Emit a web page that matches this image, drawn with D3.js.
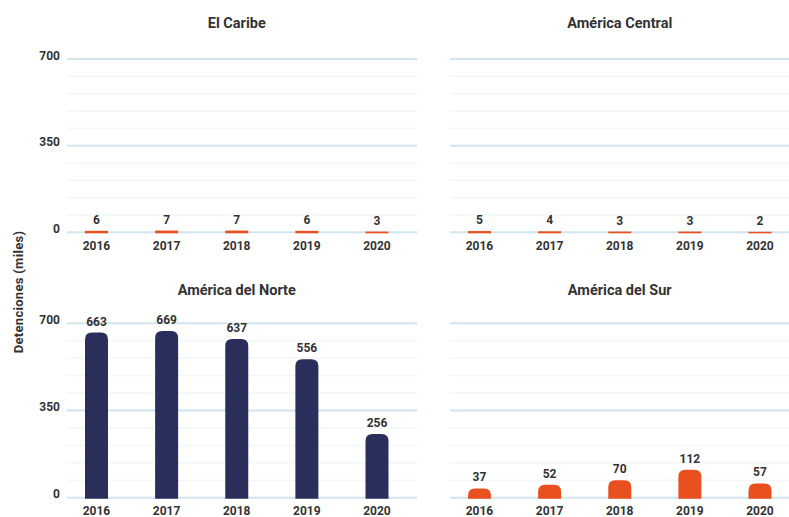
<!DOCTYPE html>
<html>
<head>
<meta charset="utf-8">
<script src="https://cdn.jsdelivr.net/npm/d3@7"></script>
<style>
  html, body { margin: 0; padding: 0; background: #ffffff; }
  svg { display: block; }
  text { font-family: Roboto, "DejaVu Sans", sans-serif; font-weight: 700; fill: #333333; }
</style>
</head>
<body>
<svg id="chart" width="789" height="517"></svg>
<script>
const years = ["2016", "2017", "2018", "2019", "2020"];
const regions = ["El Caribe", "América Central", "América del Norte", "América del Sur"];
const caribeValues = [6, 7, 7, 6, 3];
const centralValues = [5, 4, 3, 3, 2];
const norteValues = [663, 669, 637, 556, 256];
const surValues = [37, 52, 70, 112, 57];
const majorTicks = [0, 350, 700];
const minorTicks = [70, 140, 210, 280, 420, 490, 560, 630];
const yAxisTitle = "Detenciones (miles)";

const navy = "#2a2e5a";
const orange = "#e8501f";

const svg = d3.select("#chart");

const panels = [
  { title: regions[0], values: caribeValues, color: orange, x0: 67, x1: 417, y0: 232.3, y1: 59, titleY: 28, showTicks: true },
  { title: regions[1], values: centralValues, color: orange, x0: 450, x1: 800, y0: 232.3, y1: 59, titleY: 28, showTicks: false },
  { title: regions[2], values: norteValues, color: navy, x0: 67, x1: 417, y0: 497.7, y1: 323.3, titleY: 295, showTicks: true },
  { title: regions[3], values: surValues, color: orange, x0: 450, x1: 800, y0: 497.7, y1: 323.3, titleY: 295, showTicks: false }
];

const barW = 23;

function barPath(x, yTop, yBase, w) {
  const h = yBase - yTop;
  const r = Math.min(7, h, w / 2);
  if (h < 3) {
    return `M${x},${yBase}V${yTop}H${x + w}V${yBase}Z`;
  }
  return `M${x},${yBase}V${yTop + r}Q${x},${yTop} ${x + r},${yTop}H${x + w - r}Q${x + w},${yTop} ${x + w},${yTop + r}V${yBase}Z`;
}

panels.forEach(p => {
  const g = svg.append("g");
  const x = d3.scalePoint().domain(years).range([p.x0 + 29.5, p.x1 - 40]);
  const y = d3.scaleLinear().domain([0, 700]).range([p.y0, p.y1]);

  // minor gridlines
  g.selectAll(".minor").data(minorTicks).join("line")
    .attr("x1", p.x0).attr("x2", p.x1)
    .attr("y1", d => y(d)).attr("y2", d => y(d))
    .attr("stroke", "#f1f7fb").attr("stroke-width", 1.5);

  // major gridlines
  g.selectAll(".major").data(majorTicks).join("line")
    .attr("x1", p.x0).attr("x2", p.x1)
    .attr("y1", d => y(d)).attr("y2", d => y(d))
    .attr("stroke", "#d2e4ef").attr("stroke-width", 2);

  // y tick labels
  if (p.showTicks) {
    g.selectAll(".ytick").data(majorTicks).join("text")
      .attr("x", 60).attr("y", d => y(d) + 0.5)
      .attr("text-anchor", "end")
      .attr("font-size", 12)
      .text(d => d);
  }

  // bars
  g.selectAll(".bar").data(p.values).join("path")
    .attr("d", (d, i) => barPath(x(years[i]) - barW / 2, y(d), y(0) + 1, barW))
    .attr("fill", p.color);

  // value labels
  g.selectAll(".val").data(p.values).join("text")
    .attr("x", (d, i) => x(years[i]))
    .attr("y", d => y(d) - 7)
    .attr("text-anchor", "middle")
    .attr("font-size", 12)
    .text(d => d);

  // year labels
  g.selectAll(".year").data(years).join("text")
    .attr("x", d => x(d))
    .attr("y", p.y0 + 17.5)
    .attr("text-anchor", "middle")
    .attr("font-size", 12)
    .text(d => d);

  // title
  g.append("text")
    .attr("x", (x(years[0]) + x(years[4])) / 2)
    .attr("y", p.titleY)
    .attr("text-anchor", "middle")
    .attr("font-size", 14.5)
    .text(p.title);
});

svg.append("text")
  .attr("transform", "translate(23,292) rotate(-90)")
  .attr("text-anchor", "middle")
  .attr("font-size", 13)
  .attr("letter-spacing", 0.3)
  .text(yAxisTitle);
</script>
</body>
</html>
